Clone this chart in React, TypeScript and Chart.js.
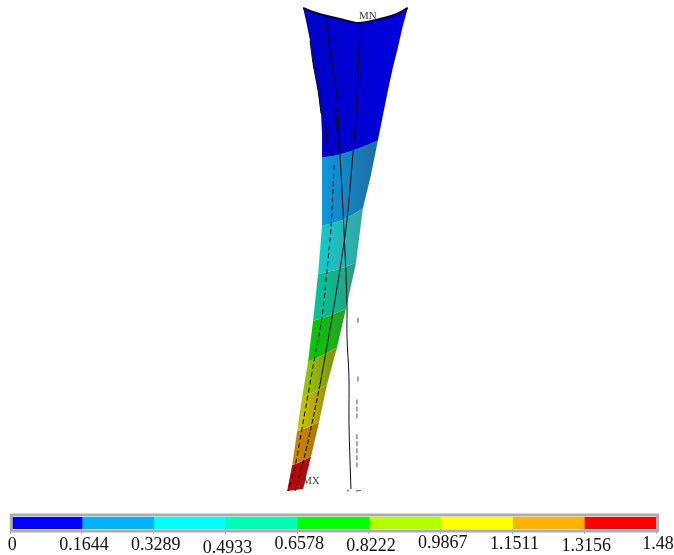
import React, { useEffect, useRef } from "react";
import { Chart, registerables } from "chart.js";

Chart.register(...registerables);

type P = [number, number];

// Colour bar
const levels = [0, 0.1644, 0.3289, 0.4933, 0.6578, 0.8222, 0.9867, 1.1511, 1.3156, 1.48];
const tickLabels = ["0", "0.1644", "0.3289", "0.4933", "0.6578", "0.8222", "0.9867", "1.1511", "1.3156", "1.48"];
const tickShift = [0, 0, 0, 3, -1, 1, -2, -1, 1, -1];
const barColors = ["#0000ff", "#00b2ff", "#00ffff", "#00ffb2", "#00ff00", "#b2ff00", "#ffff00", "#ffb200", "#ff0000"];

// Contour bands of the deformed beam
const band1: P[] = [[303, 7], [313, 11], [323, 14], [340, 18], [359, 22], [380, 18], [397, 13], [408, 7], [403, 25], [398, 47], [393, 67], [388, 90], [383, 115], [378, 140], [364, 146], [350, 151], [336, 155], [322, 157], [322, 133], [321, 113], [318, 90], [313, 63], [310, 40], [306, 20]];
const band2: P[] = [[322, 157], [336, 155], [350, 151], [364, 146], [378, 140], [371, 175], [363, 208], [352, 215], [342, 220], [322, 226]];
const band3: P[] = [[322, 226], [342, 220], [352, 215], [363, 208], [356, 263], [336, 270], [318, 274]];
const band4: P[] = [[318, 274], [336, 270], [356, 263], [346, 309], [330, 316], [313, 321]];
const band5: P[] = [[313, 321], [330, 316], [346, 309], [337, 348], [322, 356], [308, 362]];
const band6: P[] = [[308, 362], [322, 356], [337, 348], [327, 385], [315, 392], [302, 398]];
const band7: P[] = [[302, 398], [315, 392], [327, 385], [319, 423], [308, 428], [297, 432]];
const band8: P[] = [[297, 432], [308, 428], [319, 423], [311, 457], [302, 462], [292, 466]];
const band9: P[] = [[292, 466], [302, 462], [311, 457], [303, 490], [287, 492]];
const bands = [band1, band2, band3, band4, band5, band6, band7, band8, band9];
const bandLeft = ["#0000c8", "#0a98da", "#10cccc", "#00c49c", "#00cc00", "#98cc00", "#cccc00", "#d08800", "#cc0000"];
const bandRight = ["#0000e0", "#1f6ca4", "#36a4a4", "#2a9e80", "#2a9e2a", "#7f8e10", "#a08e10", "#a87808", "#a01414"];

// Structure lines
const topEdge: P[] = [[303, 7], [313, 11], [323, 14], [340, 18], [359, 22], [380, 18], [397, 13], [408, 7]];
const leftOutline: P[] = [[310, 40], [313, 63], [318, 90], [321, 113]];
const lineA: P[] = [[325, 15], [330, 50], [337, 97], [340, 153], [344, 230], [347, 303], [347, 337], [349, 377], [349, 423], [350, 460], [351, 490]];
const lineB: P[] = [[360, 22], [357, 100], [353, 153], [347, 220], [341, 263], [332, 318], [320, 385]];
const lineBLow: P[] = [[320, 385], [310, 433], [302, 467], [295, 492]];
const lineC: P[] = [[334, 165], [331, 227], [327, 270], [322, 317], [313, 367], [303, 423], [295, 467], [288, 492]];
const lineD: P[] = [[325, 113], [328, 153]];
const lineE: P[] = [[335, 107], [339, 150]];
const baseMarks: P[] = [[358, 318], [358, 325], [NaN, NaN], [358, 377], [358, 383], [NaN, NaN], [357, 400], [357, 420], [NaN, NaN], [357, 435], [357, 470], [NaN, NaN], [356, 492], [363, 491], [NaN, NaN], [347, 492], [349, 491]];

const nodeLabels = [
  { text: "MN", x: 368, y: 15, size: 11 },
  { text: "MX", x: 311, y: 482, size: 10.5 },
];

const toXY = (pts: P[]) => pts.map(([x, y]) => ({ x, y }));

function lineSet(pts: P[], width: number, dash: number[] = [], color = "#0a0a14", tension = 0.3) {
  return {
    data: toXY(pts),
    showLine: true,
    borderColor: color,
    borderWidth: width,
    borderDash: dash,
    pointRadius: 0,
    fill: false,
    tension,
    order: 1,
  };
}

const nodeLabelPlugin = {
  id: "nodeLabels",
  afterDraw(chart: any) {
    const { ctx, scales } = chart;
    ctx.save();
    ctx.fillStyle = "#404040";
    ctx.textAlign = "center";
    ctx.textBaseline = "middle";
    nodeLabels.forEach((l) => {
      ctx.font = `${l.size}px "Liberation Serif"`;
      ctx.fillText(l.text, scales.x.getPixelForValue(l.x), scales.y.getPixelForValue(l.y));
    });
    ctx.restore();
  },
};

const framePlugin = {
  id: "barFrame",
  afterDatasetsDraw(chart: any) {
    const { ctx, chartArea: a } = chart;
    ctx.save();
    ctx.strokeStyle = "#adadad";
    ctx.lineWidth = 3;
    ctx.strokeRect(a.left + 1, a.top - 2, a.right - a.left + 0.5, a.bottom - a.top + 4);
    ctx.restore();
  },
};

export default function App() {
  const meshRef = useRef<HTMLCanvasElement>(null);
  const barRef = useRef<HTMLCanvasElement>(null);

  useEffect(() => {
    const mesh = new Chart(meshRef.current!, {
      type: "scatter",
      data: {
        datasets: [
          ...bands.map((pts, i) => ({
            data: toXY(pts),
            showLine: true,
            borderWidth: 0,
            borderColor: "transparent",
            pointRadius: 0,
            tension: 0,
            fill: "shape",
            order: 5,
            backgroundColor: (c: any) => {
              const s = c.chart.scales.x;
              const xs = pts.map((p) => p[0]);
              const x0 = s ? s.getPixelForValue(Math.min(...xs)) : NaN;
              const x1 = s ? s.getPixelForValue(Math.max(...xs)) : NaN;
              if (!Number.isFinite(x0) || !Number.isFinite(x1)) return bandLeft[i];
              const g = c.chart.ctx.createLinearGradient(x0, 0, x1, 0);
              g.addColorStop(0, bandLeft[i]);
              g.addColorStop(1, bandRight[i]);
              return g;
            },
          })),
          lineSet(topEdge, 2),
          lineSet(leftOutline, 1),
          lineSet(lineA, 1),
          lineSet(lineB, 1),
          lineSet(lineBLow, 1, [5, 2]),
          lineSet(lineC, 1, [5, 3]),
          lineSet(lineD, 1),
          lineSet(lineE, 1),
          lineSet(baseMarks, 1, [5, 2], "#555555", 0),
        ] as any,
      },
      options: {
        animation: false,
        responsive: false,
        layout: { padding: 0 },
        plugins: { legend: { display: false }, tooltip: { enabled: false } },
        scales: {
          x: { type: "linear", display: false, min: 0, max: 674 },
          y: { type: "linear", display: false, min: 0, max: 505, reverse: true },
        },
      },
      plugins: [nodeLabelPlugin],
    });
    mesh.update();

    const bar = new Chart(barRef.current!, {
      type: "bar",
      data: {
        labels: ["scale"],
        datasets: barColors.map((color, i) => ({
          data: [levels[i + 1] - levels[i]],
          backgroundColor: color,
          borderWidth: 0,
          barPercentage: 1,
          categoryPercentage: 1,
        })),
      },
      options: {
        indexAxis: "y",
        animation: false,
        responsive: false,
        layout: { padding: { left: 10.25, right: 18, top: 12, bottom: 0 } },
        plugins: { legend: { display: false }, tooltip: { enabled: false } },
        scales: {
          y: { stacked: true, display: false },
          x: {
            type: "linear",
            stacked: true,
            min: 0,
            max: 1.48,
            afterBuildTicks(scale: any) {
              scale.ticks = levels.map((value) => ({ value }));
            },
            afterFit(scale: any) {
              scale.height = 26;
            },
            border: { display: false },
            grid: { drawOnChartArea: false, drawTicks: true, tickLength: 5, color: "#adadad" },
            ticks: {
              autoSkip: false,
              maxRotation: 0,
              minRotation: 0,
              padding: 0,
              labelOffset: 2,
              color: "#111111",
              callback: (_v: any, i: number) => tickLabels[i],
              font: (c: any) => ({
                family: '"Liberation Serif"',
                size: 18,
                lineHeight: `${22 + 2 * (tickShift[c.index] ?? 0)}px`,
              }),
            },
          },
        },
      } as any,
      plugins: [framePlugin],
    });

    return () => {
      mesh.destroy();
      bar.destroy();
    };
  }, []);

  return (
    <div style={{ position: "absolute", left: 0, top: 0, width: 674, height: 555, background: "#fff", overflow: "hidden" }}>
      <canvas ref={meshRef} width={674} height={505} style={{ position: "absolute", left: 0, top: 0 }} />
      <canvas ref={barRef} width={674} height={50} style={{ position: "absolute", left: 0, top: 505 }} />
    </div>
  );
}
